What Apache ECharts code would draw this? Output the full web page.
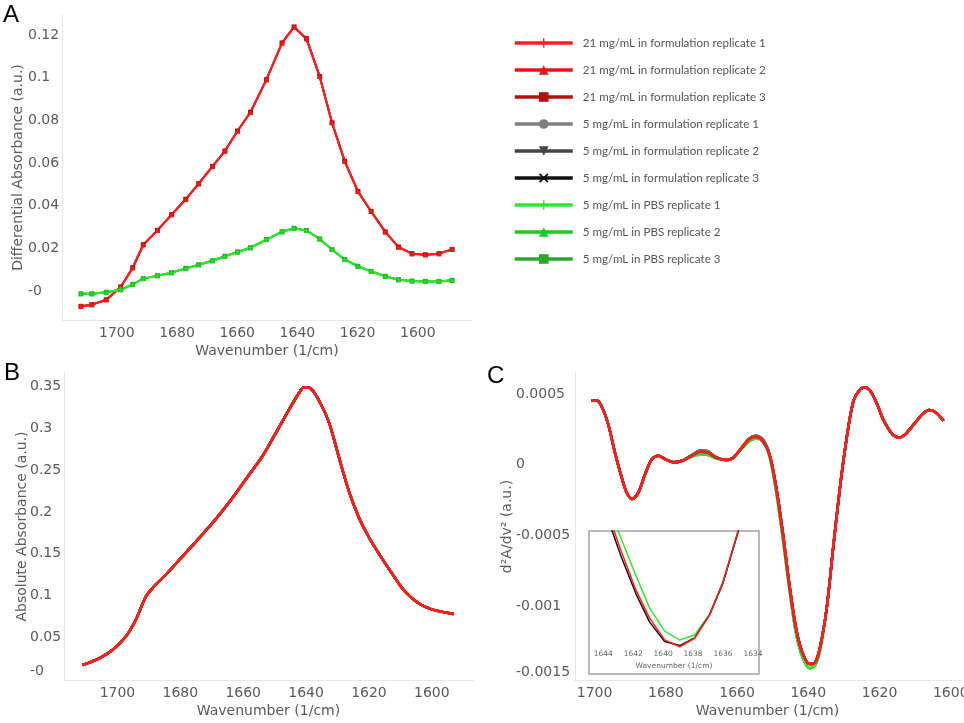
<!DOCTYPE html>
<html><head><meta charset="utf-8">
<script src="https://cdn.jsdelivr.net/npm/echarts/dist/echarts.min.js"></script>
<style>html,body{margin:0;padding:0;background:#fff}#c{width:964px;height:723px}</style>
</head><body><div id="c"></div><script>
// ---------- DATA ----------
const seriesNames = ['21 mg/mL in formulation replicate 1','21 mg/mL in formulation replicate 2','21 mg/mL in formulation replicate 3','5 mg/mL in formulation replicate 1','5 mg/mL in formulation replicate 2','5 mg/mL in formulation replicate 3','5 mg/mL in PBS replicate 1','5 mg/mL in PBS replicate 2','5 mg/mL in PBS replicate 3'];

// Panel A: differential absorbance
const aWavenumber = [1711.9,1708.3,1703.5,1698.7,1694.7,1691.2,1686.5,1681.8,1677.1,1672.8,1668.2,1664.1,1659.9,1655.6,1650.3,1645.1,1641.1,1637.0,1632.6,1628.5,1624.3,1619.9,1615.5,1610.8,1606.4,1601.9,1597.5,1593.0,1588.6];
const aFormulation21 = [-0.0072,-0.0064,-0.0041,0.0019,0.0109,0.0217,0.0284,0.0358,0.043,0.0503,0.0584,0.0656,0.075,0.0838,0.0991,0.1163,0.1238,0.1183,0.1006,0.0789,0.0609,0.0467,0.0373,0.0277,0.0206,0.0175,0.017,0.0175,0.0195];
const aPBS5 = [-0.0013,-0.0013,-0.0006,0.0006,0.0031,0.0058,0.0072,0.0086,0.0106,0.0123,0.0142,0.0163,0.0183,0.0203,0.0241,0.0278,0.0294,0.0284,0.0244,0.0194,0.0148,0.0116,0.0092,0.0069,0.0053,0.0047,0.0045,0.0045,0.005];

// Panel B: absolute absorbance
const bWavenumber = [1711.1,1705.8,1701.6,1697.4,1694.2,1691.0,1688.9,1684.7,1679.4,1674.1,1668.8,1663.5,1658.2,1654.0,1649.7,1645.5,1642.3,1640.7,1638.6,1636.0,1632.8,1629.6,1626.5,1623.3,1620.1,1616.9,1612.7,1608.5,1604.2,1600.0,1595.8,1593.1];
const bAbsorbance = [0.0168,0.0249,0.0348,0.0507,0.0707,0.0986,0.1087,0.1246,0.1465,0.1685,0.1912,0.2164,0.2443,0.2662,0.2942,0.3221,0.3421,0.3493,0.3481,0.3341,0.3081,0.2662,0.2263,0.1944,0.1704,0.1505,0.1266,0.1046,0.0907,0.0835,0.0799,0.0779];

// Panel C: second derivative
const cWavenumber = [1700.9,1699.5,1698.1,1696.2,1694.3,1692.4,1691.0,1689.4,1687.7,1685.8,1683.9,1682.1,1680.2,1677.8,1675.4,1672.6,1670.3,1668.4,1666.0,1663.2,1661.3,1659.0,1656.6,1654.7,1652.8,1650.9,1649.0,1647.1,1645.2,1643.3,1641.5,1639.6,1638.1,1636.7,1634.8,1633.0,1631.1,1629.2,1627.3,1625.4,1624.0,1622.6,1620.7,1618.8,1616.4,1614.5,1612.7,1610.3,1607.9,1606.0,1604.2,1602.0];
const cFormulation21 = [0.000453,0.000457,0.000417,0.000288,0.000087,-0.00009,-0.000196,-0.000243,-0.000196,-0.000066,0.00004,0.000064,0.00004,0.000017,0.000028,0.000064,0.000092,0.000087,0.000052,0.000033,0.000045,0.000111,0.000182,0.000198,0.00017,0.000076,-0.00016,-0.00049,-0.000868,-0.001174,-0.001339,-0.00141,-0.001398,-0.001292,-0.001009,-0.000585,-0.00016,0.000193,0.000453,0.000535,0.000547,0.000523,0.000429,0.000311,0.000217,0.000193,0.000217,0.000288,0.000358,0.000387,0.00037,0.000311];
const cFormulation5 = [0.000453,0.000457,0.000417,0.000288,0.000087,-0.00009,-0.000196,-0.000243,-0.000196,-0.000066,0.00004,0.000064,0.00004,0.000017,0.000028,0.00007,0.0001,0.000097,0.000055,0.000033,0.000045,0.000111,0.000185,0.000205,0.00018,0.000076,-0.00016,-0.00049,-0.000868,-0.001174,-0.001339,-0.00141,-0.001398,-0.001292,-0.001009,-0.000585,-0.00016,0.000193,0.000453,0.000535,0.000547,0.000523,0.000429,0.000311,0.000217,0.000193,0.000217,0.000288,0.000358,0.000387,0.00037,0.000311];
const cPBS5 = [0.000453,0.000457,0.000417,0.000288,0.000087,-0.00009,-0.000196,-0.000243,-0.000196,-0.000066,0.00004,0.000064,0.00004,0.000017,0.000028,0.00006,0.00007,0.00007,0.000045,0.000033,0.000045,0.000105,0.000165,0.000185,0.000165,0.00006,-0.00019,-0.00053,-0.0009,-0.00121,-0.00137,-0.00144,-0.00142,-0.00131,-0.001009,-0.000585,-0.00016,0.000193,0.000453,0.000535,0.000547,0.000523,0.000429,0.000311,0.000217,0.000193,0.000217,0.000288,0.000358,0.000387,0.00037,0.000311];

// Inset of panel C
const insetWavenumber = [1644.7,1643.8,1642.8,1641.8,1640.9,1639.9,1638.9,1637.9,1636.9,1636.0,1635.0,1634.0];
const insetFormulation21 = [-0.001038,-0.001084,-0.00119,-0.001288,-0.001356,-0.00141,-0.001427,-0.001406,-0.001348,-0.001266,-0.00114,-0.001001];
const insetFormulation5 = [-0.00103,-0.001098,-0.001204,-0.001297,-0.001366,-0.001414,-0.001424,-0.001405,-0.001348,-0.001269,-0.001142,-0.001003];
const insetPBS5 = [-0.00099,-0.001063,-0.001159,-0.001252,-0.001331,-0.001388,-0.00141,-0.001398,-0.001346,-0.001266,-0.001145,-0.001005];

const xTicks = [1600,1620,1640,1660,1680,1700];
const insetXTicks = [1634,1636,1638,1640,1642,1644];
const aYTicks = [0,0.02,0.04,0.06,0.08,0.1,0.12];
const bYTicks = [0,0.05,0.1,0.15,0.2,0.25,0.3,0.35];
const cYTicks = [-0.0015,-0.001,-0.0005,0,0.0005];

// ---------- STYLE ----------
const PLUS = 'path://M4.3,0H5.7V4.3H10V5.7H5.7V10H4.3V5.7H0V4.3H4.3Z';
const CROSS = 'path://M0,1.3L1.3,0L5,3.7L8.7,0L10,1.3L6.3,5L10,8.7L8.7,10L5,6.3L1.3,10L0,8.7L3.7,5Z';
const styles = [
  {color:'#ff1f1f', symbol:PLUS},
  {color:'#ea1616', symbol:'triangle'},
  {color:'#b80f0f', symbol:'rect'},
  {color:'#808080', symbol:'circle'},
  {color:'#454545', symbol:'triangle', rotate:180},
  {color:'#111111', symbol:CROSS},
  {color:'#2ee82e', symbol:PLUS},
  {color:'#19cc19', symbol:'triangle'},
  {color:'#2aa82a', symbol:'rect'}
];
const FONT = 'DejaVu Sans';
const GREY = '#5a5a5a';

function mk(i, g, xs, ys, o) {
  const s = styles[i];
  return Object.assign({
    name: seriesNames[i], type: 'line', xAxisIndex: g, yAxisIndex: g,
    data: xs.map((x, k) => [x, ys[k]]),
    symbol: s.symbol, symbolRotate: s.rotate || 0, symbolSize: 5,
    showSymbol: false, smooth: false,
    lineStyle: {color: s.color, width: 2.5},
    itemStyle: {color: s.color},
    emphasis: {disabled: true}, animation: false
  }, o || {});
}

const series = [];
// A
[2,1,0].forEach(i => series.push(mk(i,0,aWavenumber,aFormulation21,{showSymbol:true,lineStyle:{color:styles[i].color,width:2}})));
[8,7,6].forEach(i => series.push(mk(i,0,aWavenumber,aPBS5,{showSymbol:true,lineStyle:{color:styles[i].color,width:2}})));
// B
[8,7,6,5,4,3,2,1,0].forEach(i => series.push(mk(i,1,bWavenumber,bAbsorbance,{smooth:0.3})));
// C
[8,7,6].forEach(i => series.push(mk(i,2,cWavenumber,cPBS5,{smooth:0.3})));
[5,4,3].forEach(i => series.push(mk(i,2,cWavenumber,cFormulation5,{smooth:0.3})));
[2,1,0].forEach(i => series.push(mk(i,2,cWavenumber,cFormulation21,{smooth:0.3})));
// inset
series.push(mk(6,3,insetWavenumber,insetPBS5,{lineStyle:{color:styles[6].color,width:1.5},z:5}));
series.push(mk(5,3,insetWavenumber,insetFormulation5,{lineStyle:{color:styles[5].color,width:1.5},z:5}));
series.push(mk(0,3,insetWavenumber,insetFormulation21,{lineStyle:{color:styles[0].color,width:1.5},z:5}));

function xAx(g, min, max) {
  return {
    gridIndex: g, type: 'value', inverse: true, min: min, max: max,
    axisLine: {show: true, onZero: false, lineStyle: {color: '#e2e2e2', type: 'dotted'}},
    axisTick: {show: false}, splitLine: {show: false},
    axisLabel: {customValues: xTicks, formatter: v => String(v), color: GREY, fontSize: 14, fontFamily: FONT, margin: 6},
    name: 'Wavenumber (1/cm)', nameLocation: 'middle', nameGap: 24, nameMoveOverlap: false,
    nameTextStyle: {color: GREY, fontSize: 14, fontFamily: FONT}
  };
}
function yAx(g, min, max, ticks, name, margin, nameGap, fmt, lowPad) {
  return {
    gridIndex: g, type: 'value', min: min, max: max,
    axisLine: {show: true, onZero: false, lineStyle: {color: '#e2e2e2', type: 'dotted'}},
    axisTick: {show: false}, splitLine: {show: false},
    axisLabel: {customValues: ticks, color: GREY, fontSize: 14, fontFamily: FONT, margin: margin, align: 'left',
      formatter: fmt,
      rich: {lo: {padding: [0, 0, lowPad, 0], color: GREY, fontSize: 14, fontFamily: FONT}}},
    name: name, nameLocation: 'middle', nameGap: nameGap, nameMoveOverlap: false,
    nameTextStyle: {color: GREY, fontSize: 14, fontFamily: FONT}
  };
}

const option = {
  backgroundColor: '#fff',
  animation: false,
  title: [
    {text: 'A', left: 3, top: 3, padding: 0, textStyle: {fontSize: 24, fontWeight: 'normal', color: '#000', fontFamily: 'Liberation Sans'}},
    {text: 'B', left: 4, top: 361, padding: 0, textStyle: {fontSize: 24, fontWeight: 'normal', color: '#000', fontFamily: 'Liberation Sans'}},
    {text: 'C', left: 487, top: 364, padding: 0, textStyle: {fontSize: 24, fontWeight: 'normal', color: '#000', fontFamily: 'Liberation Sans'}}
  ],
  legend: {
    data: seriesNames, orient: 'vertical', left: 513, top: 37, padding: 0,
    itemWidth: 58, itemHeight: 12, itemGap: 15, selectedMode: false,
    lineStyle: {width: 3.5},
    textStyle: {fontFamily: 'Lato', fontSize: 11.6, color: '#555', padding: [0, 0, 0, 5]}
  },
  grid: [
    {left: 62, top: 15, width: 410, height: 305, outerBoundsMode: 'none'},
    {left: 64, top: 373, width: 409, height: 307, outerBoundsMode: 'none'},
    {left: 575, top: 373, width: 385, height: 307, outerBoundsMode: 'none'},
    {left: 589, top: 531, width: 170, height: 143, outerBoundsMode: 'none', show: true, borderColor: '#a3a3a3', borderWidth: 1.5, backgroundColor: '#fff', z: 3}
  ],
  xAxis: [
    xAx(0, 1582.0, 1718.2),
    xAx(1, 1586.9, 1717.0),
    xAx(2, 1597.4, 1705.5),
    {gridIndex: 3, type: 'value', inverse: true, min: 1633.6, max: 1644.95, z: 10,
     axisLine: {show: false, onZero: false}, axisTick: {show: false}, splitLine: {show: false},
     axisLabel: {customValues: insetXTicks, formatter: v => String(v), inside: true, margin: 16, color: '#666', fontSize: 7.5, fontFamily: FONT},
     name: 'Wavenumber (1/cm)', nameLocation: 'middle', nameGap: -12, nameMoveOverlap: false,
     nameTextStyle: {color: '#666', fontSize: 7.5, fontFamily: FONT}}
  ],
  yAxis: [
    yAx(0, -0.0136, 0.1294, aYTicks, 'Differential Absorbance (a.u.)', 34, 37, v => v === 0 ? '-0' : String(v), 0),
    yAx(1, -0.0011, 0.3664, bYTicks, 'Absolute Absorbance (a.u.)', 34, 35, v => v === 0 ? '{lo|-0}' : String(v), 15),
    yAx(2, -0.001523, 0.000649, cYTicks, 'd²A/dv² (a.u.)', 59, 61, v => v === -0.0015 ? '{lo|-0.0015}' : String(v), 9),
    {gridIndex: 3, type: 'value', min: -0.0014945, max: -0.00114, show: false}
  ],
  series: series
};
const chart = echarts.init(document.getElementById('c'));
chart.setOption(option);
</script></body></html>
